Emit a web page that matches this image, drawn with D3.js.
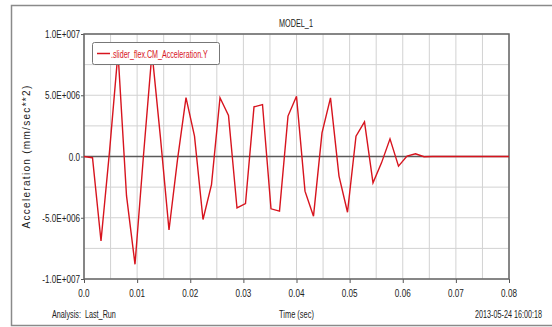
<!DOCTYPE html>
<html>
<head>
<meta charset="utf-8">
<script src="https://cdn.jsdelivr.net/npm/d3@7"></script>
<style>
  html, body { margin: 0; padding: 0; background: #fff; }
  svg { display: block; }
</style>
</head>
<body>
<svg id="chart" width="552" height="327"></svg>
<script>
// ---- data ----
const title = "MODEL_1";
const seriesName = ".slider_flex.CM_Acceleration.Y";
const timeStep = 0.0016;
const accelValues = [
  0, -0.1e6, -6.9e6, 0.4e6, 8.5e6, -3.2e6, -8.8e6, 0.1e6, 8.5e6, 1.5e6,
  -6.0e6, -0.25e6, 4.8e6, 1.66e6, -5.14e6, -2.29e6, 4.8e6, 3.35e6, -4.2e6, -3.84e6,
  4.05e6, 4.24e6, -4.27e6, -4.46e6, 3.3e6, 4.92e6, -2.83e6, -4.87e6, 1.93e6, 4.79e6,
  -1.6e6, -4.55e6, 1.66e6, 2.83e6, -2.15e6, -0.52e6, 1.44e6, -0.79e6, 0.03e6, 0.22e6,
  -0.02e6, 0, 0, 0, 0, 0, 0, 0, 0, 0, 0
];
const xTicks = [0, 0.01, 0.02, 0.03, 0.04, 0.05, 0.06, 0.07, 0.08];
const xTickLabels = ["0.0", "0.01", "0.02", "0.03", "0.04", "0.05", "0.06", "0.07", "0.08"];
const xGrid = [0.005, 0.015, 0.025, 0.035, 0.045, 0.055, 0.065, 0.075];
const yTicks = [1e7, 5e6, 0, -5e6, -1e7];
const yTickLabels = ["1.0E+007", "5.0E+006", "0.0", "-5.0E+006", "-1.0E+007"];
const yGrid = [7.5e6, 2.5e6, -2.5e6, -7.5e6];
const xTitle = "Time (sec)";
const yTitle = "Acceleration (mm/sec**2)";
const footLeft = "Analysis:  Last_Run";
const footRight = "2013-05-24 16:00:18";

const data = accelValues.map((v, i) => ({ t: i * timeStep, v }));

// ---- layout ----
const svg = d3.select("#chart");
const L = 84, R = 509, T = 34, B = 279;
const x = d3.scaleLinear().domain([0, 0.08]).range([L, R]);
const y = d3.scaleLinear().domain([-1e7, 1e7]).range([B, T]);
const FONT = "Liberation Sans, Arial, sans-serif";
const FS = 11;

// condensed text (mimics Arial Narrow): scale horizontally to a target width
function narrowText(parent, px, py, txt, opts = {}) {
  const t = parent.append("text")
    .attr("text-anchor", opts.anchor || "start")
    .attr("font-family", FONT)
    .attr("font-size", opts.size || FS)
    .attr("fill", opts.fill || "#222")
    .style("white-space", "pre")
    .text(txt);
  let sx = opts.sx || 0.7;
  if (opts.width) {
    const len = t.node().getComputedTextLength();
    if (len > 0) sx = opts.width / len;
  }
  t.attr("transform", `translate(${px},${py}) scale(${sx},1)`);
  return sx;
}

// outer frame
svg.append("path")
  .attr("d", `M600,5.5 H11.5 V325.5 H600`)
  .attr("fill", "none").attr("stroke", "#8a8a8a").attr("stroke-width", 1.5);

// grid
const g = svg.append("g");
g.selectAll(".vx").data(xTicks.concat(xGrid)).join("line")
  .attr("x1", d => x(d)).attr("x2", d => x(d)).attr("y1", T).attr("y2", B)
  .attr("stroke", "#d2d2d2").attr("stroke-width", 1);
g.selectAll(".hy").data(yTicks.concat(yGrid)).join("line")
  .attr("x1", L).attr("x2", R).attr("y1", d => y(d)).attr("y2", d => y(d))
  .attr("stroke", "#d2d2d2").attr("stroke-width", 1);

// zero line
svg.append("line").attr("x1", L).attr("x2", R).attr("y1", y(0)).attr("y2", y(0))
  .attr("stroke", "#5a5a5a").attr("stroke-width", 1.5);

// axes (ticks via d3 axis, labels condensed)
const xAxis = d3.axisBottom(x).tickValues(xTicks).tickSize(4).tickFormat(() => "");
const yAxis = d3.axisLeft(y).tickValues(yTicks).tickSize(3).tickFormat(() => "");
const gx = svg.append("g").attr("transform", `translate(0,${B})`).call(xAxis);
const gy = svg.append("g").attr("transform", `translate(${L},0)`).call(yAxis);
[gx, gy].forEach(a => {
  a.select(".domain").remove();
  a.selectAll("line").attr("stroke", "#555");
  a.selectAll("text").remove();
});
// numeric labels: scale derived from "1.0E+007" being ~35px wide
const numSX = narrowText(svg, L - 4, y(yTicks[0]) + 4, yTickLabels[0], { anchor: "end", width: 35 });
yTicks.slice(1).forEach((d, i) => narrowText(svg, L - 4, y(d) + 4, yTickLabels[i + 1], { anchor: "end", sx: numSX }));
xTicks.forEach((d, i) => narrowText(svg, x(d), B + 18, xTickLabels[i], { anchor: "middle", sx: numSX }));

// plot border
svg.append("rect").attr("x", L).attr("y", T).attr("width", R - L).attr("height", B - T)
  .attr("fill", "none").attr("stroke", "#666").attr("stroke-width", 1.5);

// series line
svg.append("path").datum(data)
  .attr("d", d3.line().x(d => x(d.t)).y(d => y(d.v)))
  .attr("fill", "none").attr("stroke", "#d7141e").attr("stroke-width", 1.4)
  .attr("stroke-linejoin", "miter");

// legend
const lg = svg.append("g");
lg.append("rect").attr("x", 92.5).attr("y", 42.5).attr("width", 127).attr("height", 22)
  .attr("rx", 2).attr("fill", "#fff").attr("stroke", "#777").attr("stroke-width", 1);
lg.append("line").attr("x1", 97).attr("x2", 110).attr("y1", 53.5).attr("y2", 53.5)
  .attr("stroke", "#d7141e").attr("stroke-width", 1.5);
narrowText(lg, 111, 57.5, seriesName, { fill: "#d7141e", width: 97 });

// titles
narrowText(svg, 279, 27, title, { width: 34 });
narrowText(svg, 279, 318, xTitle, { width: 35 });
narrowText(svg, 52, 318, footLeft, { width: 64 });
narrowText(svg, 542, 318, footRight, { anchor: "end", width: 67 });
svg.append("text")
  .attr("transform", `translate(30,156.5) rotate(-90)`)
  .attr("text-anchor", "middle")
  .attr("font-family", FONT)
  .attr("font-size", 10).attr("letter-spacing", 1.3).attr("fill", "#222").text(yTitle);
</script>
</body>
</html>
